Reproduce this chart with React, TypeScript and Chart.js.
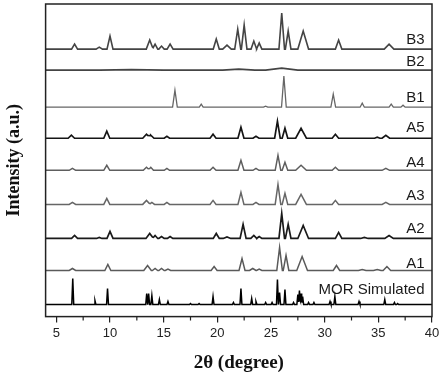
import React, { useEffect, useRef } from "react";
import { Chart, registerables } from "chart.js";

Chart.register(...registerables);

// ---- axis data ----
const X_MIN = 4;
const X_MAX = 40;
const X_TICKS = [5, 10, 15, 20, 25, 30, 35, 40];
const X_MINOR = [7.5, 12.5, 17.5, 22.5, 27.5, 32.5, 37.5];
const Y_MIN = 0;
const Y_MAX = 312;

// ---- series (bottom to top) ----
const SERIES_NAMES = ["MOR Simulated", "A1", "A2", "A3", "A4", "A5", "B1", "B2", "B3"];
const OFFSETS = [12, 46, 78, 112, 146, 178, 209, 246, 267];

// peaks: [2θ, height, half-width]
const MOR_PEAKS = [
  [6.53, 26, 0.09], [8.6, 4, 0.09], [9.77, 16, 0.09], [13.42, 11, 0.09], [13.6, 11, 0.09],
  [13.9, 9, 0.09], [14.6, 5, 0.09], [15.4, 3, 0.09], [17.5, 1, 0.09], [18.3, 1, 0.09],
  [19.6, 8, 0.09], [21.5, 2, 0.09], [22.2, 16, 0.09], [23.2, 6, 0.09], [23.6, 3, 0.09],
  [24.5, 2, 0.09], [25.1, 2, 0.09], [25.6, 25, 0.09], [25.8, 12, 0.09], [26.3, 15, 0.09],
  [27.1, 2, 0.09], [27.5, 10, 0.09], [27.65, 14, 0.09], [27.8, 11, 0.09], [27.95, 8, 0.09],
  [28.5, 2, 0.09], [29.0, 2, 0.09], [30.5, 3, 0.09], [30.95, 8, 0.09], [33.2, 3, 0.09],
  [35.6, 5, 0.09], [36.5, 2, 0.09], [36.8, 1, 0.09],
];
const A1_PEAKS = [
  [6.5, 2, 0.3], [9.8, 6, 0.28], [13.5, 5, 0.35], [14.2, 2, 0.25], [14.8, 2, 0.25], [15.4, 1.5, 0.25],
  [19.7, 4, 0.28], [22.3, 12, 0.28], [23.3, 2, 0.3], [23.9, 1.5, 0.25], [25.8, 23, 0.26],
  [26.4, 15, 0.26], [27.9, 14, 0.5], [31.1, 5, 0.3], [33.5, 1, 0.35], [34.9, 1, 0.35], [35.8, 4, 0.35],
];
const A2_PEAKS = [
  [6.7, 3, 0.28], [9.0, 1, 0.25], [10.0, 7, 0.28], [13.7, 5, 0.35], [14.2, 3, 0.25], [14.8, 2, 0.25],
  [15.6, 2, 0.25], [19.9, 5, 0.28], [20.9, 1.5, 0.35], [22.4, 14, 0.28], [23.4, 3, 0.28], [23.9, 2, 0.25],
  [26.0, 25, 0.26], [26.6, 14, 0.26], [28.0, 13, 0.5], [31.3, 6, 0.3], [33.7, 1, 0.35], [36.0, 3, 0.4],
];
const A3_PEAKS = [
  [6.5, 2, 0.3], [9.7, 6, 0.28], [13.4, 4, 0.35], [13.9, 2, 0.25], [15.3, 2, 0.25], [19.6, 4, 0.28],
  [22.2, 12, 0.28], [23.6, 2, 0.28], [25.65, 20, 0.26], [26.3, 11, 0.26], [27.8, 10, 0.5],
  [31.0, 4, 0.3], [35.7, 2, 0.35],
];
const A4_PEAKS = [
  [6.5, 2, 0.3], [9.7, 5, 0.28], [13.4, 3, 0.3], [13.8, 3, 0.25], [15.3, 2, 0.25], [19.6, 3, 0.28],
  [22.2, 10, 0.28], [23.6, 2, 0.28], [25.65, 15, 0.26], [26.3, 8, 0.26], [27.8, 5, 0.5],
  [31.0, 3, 0.3], [35.7, 2, 0.35],
];
const A5_PEAKS = [
  [6.4, 3, 0.3], [9.7, 7, 0.28], [13.4, 4, 0.35], [13.8, 3, 0.3], [15.3, 2, 0.25], [19.6, 4, 0.28],
  [22.2, 11, 0.28], [23.6, 2, 0.28], [25.6, 17, 0.26], [26.3, 10, 0.26], [27.8, 10, 0.5],
  [31.0, 4, 0.3], [34.9, 1, 0.25], [35.7, 3, 0.35],
];
const B1_PEAKS = [
  [16.05, 17, 0.22], [18.5, 3, 0.18], [24.5, 1, 0.2], [26.2, 31, 0.22], [30.8, 13, 0.22],
  [33.5, 4, 0.2], [36.2, 3, 0.2], [37.3, 2, 0.2],
];
const B2_PEAKS = [
  [12.0, 0.6, 3], [22.0, 1, 1.5], [26.0, 2, 1.5],
];
const B3_PEAKS = [
  [6.7, 5, 0.28], [9.0, 2, 0.3], [10.0, 13, 0.28], [13.7, 9, 0.32], [14.2, 5, 0.25], [14.8, 3, 0.25],
  [15.6, 5, 0.28], [19.9, 10, 0.28], [20.9, 4, 0.4], [21.9, 20, 0.28], [22.5, 24, 0.26],
  [23.4, 8, 0.26], [23.9, 6, 0.25], [26.0, 36, 0.26], [26.6, 18, 0.26], [28.0, 18, 0.5],
  [31.3, 9, 0.3], [36.0, 5, 0.45],
];

const ALL_PEAKS = [MOR_PEAKS, A1_PEAKS, A2_PEAKS, A3_PEAKS, A4_PEAKS, A5_PEAKS, B1_PEAKS, B2_PEAKS, B3_PEAKS];

// label anchor values (in y units)
const LABEL_Y = [27, 53, 88, 121, 153, 188, 218, 254, 276];
const LABEL_X = 39.3;

const COLORS = ["#000000", "#5a5a5a", "#1a1a1a", "#666666", "#5e5e5e", "#151515", "#666666", "#444444", "#444444"];
const WIDTHS = [1.5, 1.5, 1.7, 1.5, 1.5, 1.7, 1.3, 1.8, 1.6];

function profile(peaks: number[][], base: number) {
  const xs = new Set<number>([X_MIN, X_MAX]);
  peaks.forEach(([c, , w]) => {
    xs.add(c - w);
    xs.add(c);
    xs.add(c + w);
  });
  const arr = Array.from(xs).filter((x) => x >= X_MIN && x <= X_MAX).sort((a, b) => a - b);
  return arr.map((x) => ({
    x,
    y: base + peaks.reduce((s, [c, h, w]) => s + Math.max(0, h * (1 - Math.abs(x - c) / w)), 0),
  }));
}

const framePlugin = {
  id: "frame",
  afterDraw(chart: any) {
    const { ctx, chartArea, scales } = chart;
    ctx.save();
    ctx.strokeStyle = "#222";
    ctx.lineWidth = 1.5;
    ctx.strokeRect(chartArea.left, chartArea.top, chartArea.right - chartArea.left, chartArea.bottom - chartArea.top);
    ctx.lineWidth = 1.2;
    ctx.beginPath();
    X_MINOR.forEach((v) => {
      const px = scales.x.getPixelForValue(v);
      ctx.moveTo(px, chartArea.bottom);
      ctx.lineTo(px, chartArea.bottom + 4);
    });
    ctx.stroke();
    ctx.fillStyle = "#1a1a1a";
    ctx.font = "15px 'Liberation Sans', Arial, sans-serif";
    ctx.textAlign = "right";
    ctx.textBaseline = "middle";
    SERIES_NAMES.forEach((name, i) => {
      ctx.fillText(name, scales.x.getPixelForValue(LABEL_X), scales.y.getPixelForValue(LABEL_Y[i]));
    });
    ctx.restore();
  },
};

export default function App() {
  const ref = useRef<HTMLCanvasElement>(null);
  useEffect(() => {
    if (!ref.current) return;
    const chart = new Chart(ref.current, {
      type: "line",
      data: {
        datasets: SERIES_NAMES.map((name, i) => ({
          label: name,
          data: profile(ALL_PEAKS[i], OFFSETS[i]),
          borderColor: COLORS[i],
          borderWidth: WIDTHS[i],
          pointRadius: 0,
          tension: 0,
          fill: false,
        })),
      },
      options: {
        animation: false,
        responsive: false,
        maintainAspectRatio: false,
        layout: { padding: { left: 4, right: 11, top: 4, bottom: 6 } },
        plugins: { legend: { display: false }, tooltip: { enabled: false } },
        scales: {
          x: {
            type: "linear",
            min: X_MIN,
            max: X_MAX,
            afterBuildTicks: (scale: any) => {
              scale.ticks = X_TICKS.map((v) => ({ value: v }));
            },
            grid: { drawOnChartArea: false, tickLength: 6, color: "#222", lineWidth: 1.2 },
            border: { display: false },
            ticks: {
              padding: 3,
              color: "#222",
              font: { family: "'Liberation Sans', Arial, sans-serif", size: 13 },
              maxRotation: 0,
              autoSkip: false,
            },
            title: {
              display: true,
              text: "2θ (degree)",
              color: "#111",
              font: { family: "'Liberation Serif', 'Times New Roman', serif", size: 19, weight: "bold" },
              padding: { top: 7, bottom: 0 },
            },
          },
          y: {
            type: "linear",
            min: Y_MIN,
            max: Y_MAX,
            grid: { display: false },
            border: { display: false },
            ticks: { display: false },
            title: {
              display: true,
              text: "Intensity (a.u.)",
              color: "#111",
              font: { family: "'Liberation Serif', 'Times New Roman', serif", size: 18, weight: "bold" },
              padding: { top: 0, bottom: 12 },
            },
          },
        },
      },
      plugins: [framePlugin],
    } as any);
    return () => chart.destroy();
  }, []);
  return (
    <div style={{ position: "absolute", left: 0, top: 0, width: 443, height: 380, background: "#fff" }}>
      <canvas ref={ref} width={443} height={380} />
    </div>
  );
}
